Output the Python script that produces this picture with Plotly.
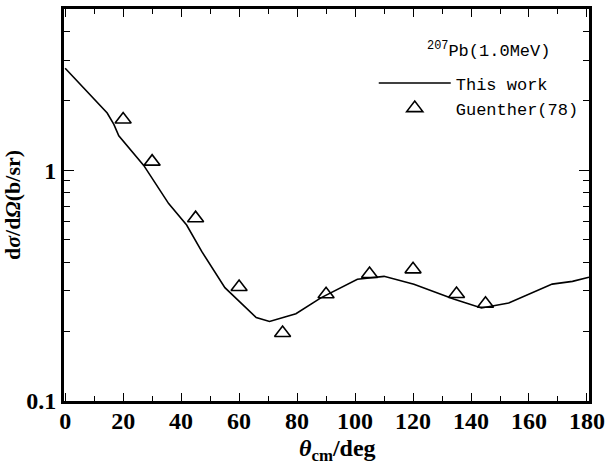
import plotly.graph_objects as go

# "This work" calculated curve
theta_calc = [0, 14.5, 16.8, 18.5, 27.1, 35.7, 41.9, 47.1, 55.1, 65.9, 70.5,
              79.6, 88.2, 93.9, 100.8, 110, 120.3, 134, 143.6, 153, 168, 175, 180.7]
sigma_calc = [2.77, 1.77, 1.58, 1.41, 1.05, 0.717, 0.579, 0.445, 0.31, 0.230, 0.221,
              0.239, 0.280, 0.305, 0.337, 0.347, 0.321, 0.277, 0.253, 0.266, 0.321, 0.33, 0.344]

# Guenther(78) experimental data
theta_exp = [20, 30, 45, 60, 75, 90, 105, 120, 135, 145]
sigma_exp = [1.66, 1.09, 0.62, 0.312, 0.197, 0.29, 0.355, 0.372, 0.291, 0.264]

x_ticks = [0, 20, 40, 60, 80, 100, 120, 140, 160, 180]
y_ticks = [0.1, 1]
y_tick_text = ["0.1", "1"]
y_minor = [0.2, 0.3, 0.4, 0.5, 0.6, 0.7, 0.8, 0.9, 2, 3, 4, 5]

mono = "Liberation Mono"
serif = "Liberation Serif"

fig = go.Figure()
fig.add_trace(go.Scatter(x=theta_calc, y=sigma_calc, mode="lines", name="This work",
                         line=dict(color="black", width=1.6)))
fig.add_trace(go.Scatter(x=theta_exp, y=sigma_exp, mode="markers", name="Guenther(78)",
                         marker=dict(symbol="triangle-up-open", size=14, color="black",
                                     line=dict(width=1.6, color="black"))))

fig.update_layout(
    width=611, height=467,
    margin=dict(l=64, r=18, t=6, b=66),
    paper_bgcolor="white", plot_bgcolor="white",
    showlegend=True,
    legend=dict(
        x=0.59, y=0.856, xanchor="left", yanchor="top",
        bgcolor="rgba(0,0,0,0)",
        font=dict(family=mono, size=17, color="black"),
        tracegroupgap=0, itemwidth=72,
    ),
    xaxis=dict(
        range=[-0.4, 180.7], tickvals=x_ticks,
        ticks="inside", ticklen=8, tickwidth=1, tickcolor="black",
        minor=dict(ticks="inside", ticklen=5, dtick=10, tick0=0, tickcolor="black"),
        showline=True, linewidth=3, linecolor="black", mirror="ticks",
        showgrid=False, zeroline=False,
        ticklabelstandoff=-4,
        tickfont=dict(family=serif, size=24, color="black", weight="bold"),
    ),
    yaxis=dict(
        type="log", range=[-1, 0.699],
        tickvals=y_ticks, ticktext=y_tick_text,
        ticks="inside", ticklen=10, tickwidth=1, tickcolor="black",
        minor=dict(ticks="inside", ticklen=6, tickvals=y_minor, tickcolor="black"),
        showline=True, linewidth=3, linecolor="black", mirror="ticks",
        showgrid=False, zeroline=False,
        tickfont=dict(family=serif, size=24, color="black", weight="bold"),
        title=dict(text="d<i>σ</i>/d<i>Ω</i>(b/sr)", standoff=3,
                   font=dict(family=serif, size=22, color="black", weight="bold")),
    ),
    annotations=[
        dict(text="<i>θ</i><sub>cm</sub>/deg", xref="paper", yref="paper",
             x=0.52, y=-0.124, xanchor="center", yanchor="middle", showarrow=False,
             font=dict(family=serif, size=24, color="black", weight="bold")),
        dict(text="<sup>207</sup>Pb(1.0MeV)", xref="paper", yref="paper",
             x=0.93, y=0.896, xanchor="right", yanchor="middle", showarrow=False,
             font=dict(family=mono, size=17, color="black")),
    ],
)

fig.write_html("out.html")
